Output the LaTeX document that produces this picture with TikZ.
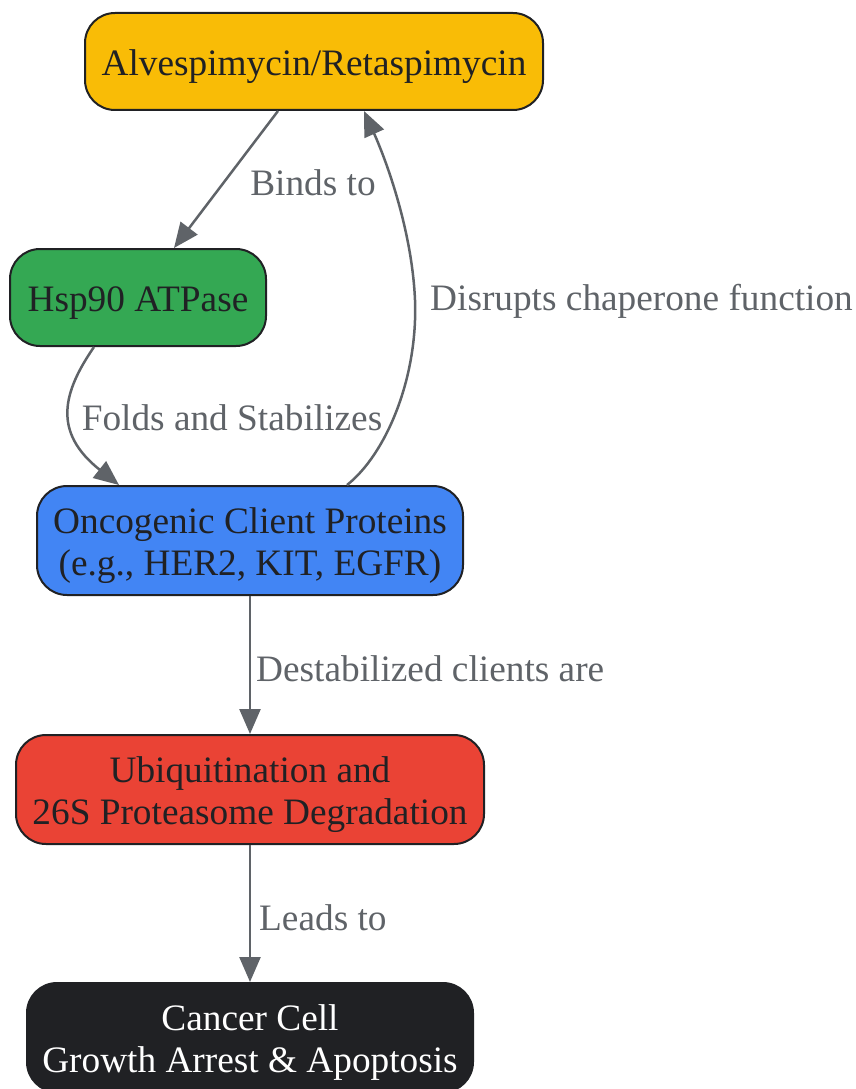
\documentclass[tikz,border=0pt]{standalone}
\usepackage{fontspec}
\setmainfont{Liberation Serif}
\usetikzlibrary{arrows.meta}
\definecolor{cyellow}{HTML}{F9BC06}
\definecolor{cgreen}{HTML}{34A853}
\definecolor{cblue}{HTML}{4285F4}
\definecolor{cred}{HTML}{EA4335}
\definecolor{cdark}{HTML}{202124}
\definecolor{cgray}{HTML}{5F6368}
\newcommand{\tstrut}{\rule{0pt}{36pt}}
\tikzset{
  box/.style={draw=cdark, line width=2pt, rounded corners=30pt, align=center,
    text=cdark, inner sep=0pt, font=\fontsize{37.3}{42}\selectfont},
  conn/.style={draw=cgray, line width=2.5pt, -{Triangle[length=25pt,width=21pt]}},
  elabel/.style={text=cgray, inner sep=0pt, font=\fontsize{37.3}{42}\selectfont}
}
\begin{document}
\begin{tikzpicture}[x=1pt,y=-1pt]
\useasboundingbox (0,0) rectangle (855,1089);
\clip (0,0) rectangle (855,1089);
\node[box, fill=cyellow, minimum width=458pt, minimum height=97pt] (a) at (314,61.5) {\tstrut Alvespimycin/Retaspimycin};
\node[box, fill=cgreen, minimum width=256pt, minimum height=97pt] (h) at (138,297.5) {\tstrut Hsp90 ATPase};
\node[box, fill=cblue, minimum width=426pt, minimum height=109pt] (o) at (250,540.5) {\tstrut Oncogenic Client Proteins\\(e.g., HER2, KIT, EGFR)};
\node[box, fill=cred, minimum width=468pt, minimum height=109pt] (u) at (250,789.5) {\tstrut Ubiquitination and\\26S Proteasome Degradation};
\node[box, fill=cdark, text=white, minimum width=446pt, minimum height=109pt] (c) at (250,1037.5) {\tstrut Cancer Cell\\Growth Arrest \& Apoptosis};

\draw[conn] ([xshift=194pt]a.south west) -- ([xshift=165pt]h.north west);
\draw[conn] ([xshift=85pt]h.south west) .. controls (63,392) and (52,432) .. ([xshift=83pt]o.north west);
\draw[conn] ([xshift=311pt]o.north west) .. controls (385,455) and (418,380) .. (415,300) .. controls (412,230) and (386,160) .. ([xshift=280pt]a.south west);
\draw[conn] (o.south) -- (u.north);
\draw[conn] (u.south) -- (c.north);

\node[elabel] (l1) at (313,183) {Binds to};
\node[elabel] (l2) at (232,418) {Folds and Stabilizes};
\node[elabel, anchor=west] (l3) at (430,301) {Disrupts chaperone function};
\node[elabel, anchor=west] (l4) at (256,669) {Destabilized clients are};
\node[elabel, anchor=west] (l5) at (259,918) {Leads to};
\end{tikzpicture}
\end{document}
